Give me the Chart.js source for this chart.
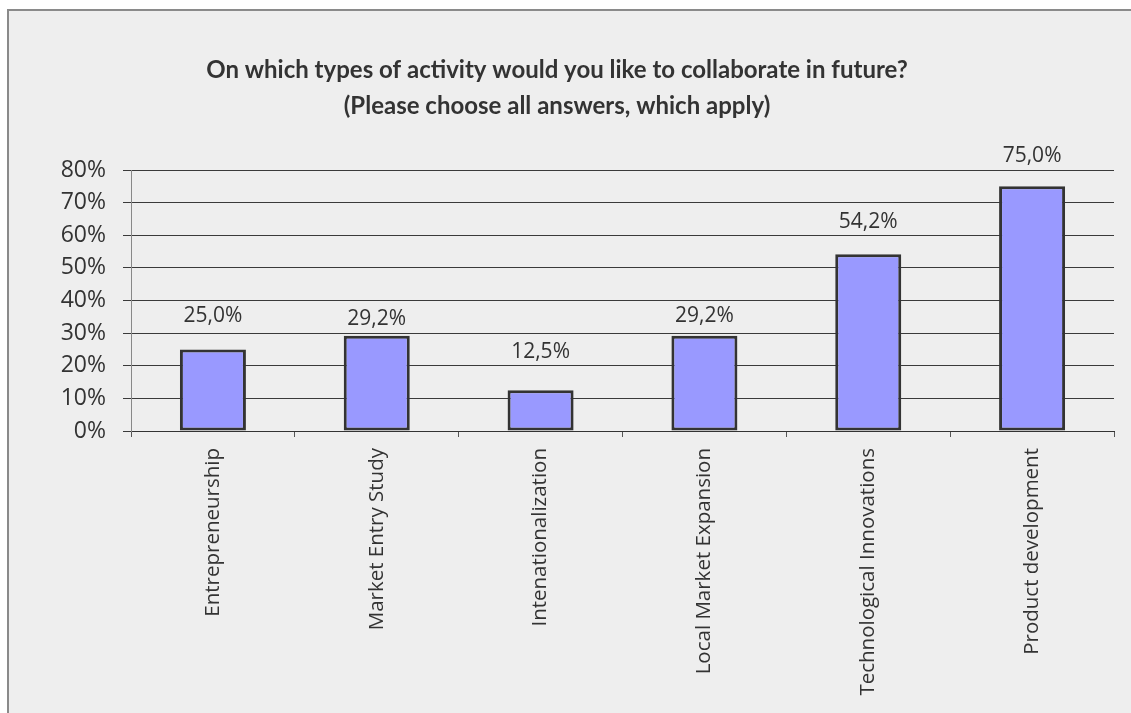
<!DOCTYPE html>
<html>
<head>
<meta charset="utf-8">
<title>Collaboration activities</title>
<script src="https://cdn.jsdelivr.net/npm/chart.js@4.4.1/dist/chart.umd.min.js"></script>
<style>
  html, body { margin: 0; padding: 0; background: #ffffff; overflow: hidden; }
  #frame {
    position: absolute; left: 7px; top: 9px; width: 1300px; height: 900px;
    background: #eeeeee; border-left: 2px solid #8a8a8a; border-top: 2px solid #8a8a8a;
  }
  #chart { position: absolute; left: 0; top: 0; }
</style>
</head>
<body>
<div id="frame"></div>
<canvas id="chart" width="1131" height="713"></canvas>
<script>
// Survey answers: share of respondents per activity type (%)
const categories = [
  'Entrepreneurship',
  'Market Entry Study',
  'Intenationalization',
  'Local Market Expansion',
  'Technological Innovations',
  'Product development'
];
const shares = [25.0, 29.2, 12.5, 29.2, 54.2, 75.0];
const yTicks = [0, 10, 20, 30, 40, 50, 60, 70, 80];
const titleLines = [
  'On which types of activity would you like to collaborate in future?',
  '(Please choose all answers, which apply)'
];

// distance (px) from the top of each bar up to the centre of its value label
const labelLift = [33, 17, 38, 20, 32, 30];

const fmtPct = v => v.toFixed(1).replace('.', ',') + '%';

const valueLabels = {
  id: 'valueLabels',
  afterDatasetsDraw(chart) {
    const ctx = chart.ctx;
    const meta = chart.getDatasetMeta(0);
    ctx.save();
    ctx.font = '21px "Open Sans"';
    ctx.fillStyle = '#333333';
    ctx.textAlign = 'center';
    ctx.textBaseline = 'middle';
    meta.data.forEach((bar, i) => {
      ctx.fillText(fmtPct(shares[i]), bar.x, bar.y - labelLift[i]);
    });
    ctx.restore();
  }
};

function draw() {
  new Chart(document.getElementById('chart'), {
    type: 'bar',
    data: {
      labels: categories,
      datasets: [{
        data: shares,
        backgroundColor: '#9999ff',
        borderColor: '#333333',
        borderWidth: 3,
        borderSkipped: false,
        categoryPercentage: 1,
        barPercentage: 0.403
      }]
    },
    options: {
      responsive: false,
      animation: false,
      layout: { padding: { left: 0, right: 17, top: 0, bottom: 0 } },
      plugins: {
        legend: { display: false },
        tooltip: { enabled: false },
        title: {
          display: true,
          text: titleLines,
          color: '#333333',
          font: { family: 'Lato', weight: 'bold', size: 24, lineHeight: 1.5 },
          padding: { top: 52, bottom: 46 }
        }
      },
      scales: {
        x: {
          offset: true,
          grid: {
            offset: true,
            drawOnChartArea: false,
            drawTicks: true,
            tickLength: 6,
            color: '#555555'
          },
          border: { color: '#333333', width: 1 },
          ticks: {
            minRotation: 90,
            maxRotation: 90,
            autoSkip: false,
            padding: 11,
            color: '#333333',
            font: { family: "'Open Sans'", size: 20.5 }
          },
          afterFit(scale) { scale.height = 282; }
        },
        y: {
          min: 0,
          max: 80,
          afterBuildTicks(scale) { scale.ticks = yTicks.map(v => ({ value: v })); },
          grid: {
            color: '#3a3a3a',
            lineWidth: 1,
            drawTicks: true,
            tickLength: 8
          },
          border: { color: '#888888', width: 1 },
          ticks: {
            padding: 17,
            color: '#333333',
            font: { family: "'Open Sans'", size: 23 },
            callback: v => v + '%'
          },
          afterFit(scale) { scale.width = 131; }
        }
      }
    },
    plugins: [valueLabels]
  });
}

Promise.all([
  document.fonts.load('21px "Open Sans"'),
  document.fonts.load('bold 24px Lato')
]).then(draw, draw);
</script>
</body>
</html>
